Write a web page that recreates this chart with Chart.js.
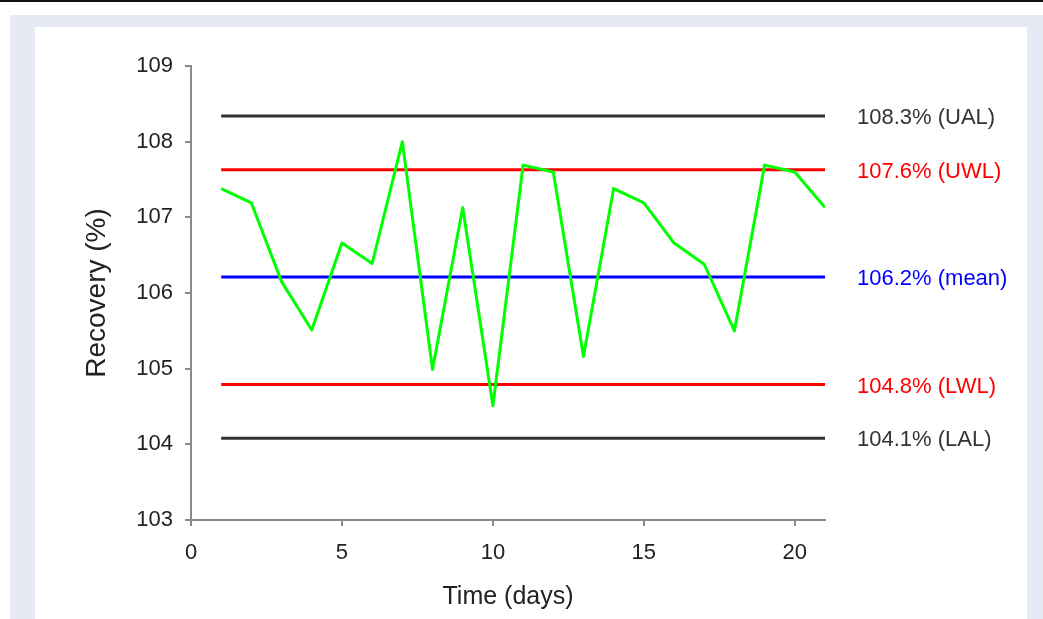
<!DOCTYPE html>
<html>
<head>
<meta charset="utf-8">
<script src="https://cdn.jsdelivr.net/npm/chart.js@4"></script>
<style>
  html, body { margin: 0; padding: 0; background: #fff; }
  body { width: 1043px; height: 619px; position: relative; overflow: hidden; }
  #topRule { position: absolute; left: 0; top: 0; width: 1043px; height: 2px; background: #111; }
  #frame { position: absolute; left: 10px; top: 15px; width: 1033px; height: 604px; background: #e6eaf5; }
  #panel { position: absolute; left: 35px; top: 27px; width: 992px; height: 592px; background: #fff; }
  #chart { position: absolute; left: 0; top: 0; }
</style>
</head>
<body>
<div id="topRule"></div>
<div id="frame"></div>
<div id="panel"></div>
<canvas id="chart" width="1043" height="619"></canvas>
<script>
// daily recovery values
const days = [1, 2, 3, 4, 5, 6, 7, 8, 9, 10, 11, 12, 13, 14, 15, 16, 17, 18, 19, 20, 21];
const recovery = [107.38, 107.19, 106.15, 105.51, 106.66, 106.39, 108.0, 104.99, 107.13, 104.51,
                  107.69, 107.60, 105.16, 107.38, 107.19, 106.66, 106.38, 105.50, 107.69, 107.60, 107.13];

// control limits
const limitNames = ['UAL', 'UWL', 'mean', 'LWL', 'LAL'];
const limitValues = [108.34, 107.63, 106.21, 104.79, 104.08];
const limitColors = ['#333333', '#ff0000', '#0000ff', '#ff0000', '#333333'];

const xTicks = [0, 5, 10, 15, 20];
const yTicks = [103, 104, 105, 106, 107, 108, 109];

const FONT = "'Liberation Sans', Arial, sans-serif";
const axisGray = '#8a8a8a';

const datasets = [{
    label: 'Recovery',
    data: days.map((d, i) => ({ x: d, y: recovery[i] })),
    borderColor: '#00ff00',
    borderWidth: 3,
    borderJoinStyle: 'round',
    pointRadius: 0,
    tension: 0
}];

limitValues.forEach((v, i) => {
    datasets.push({
        label: limitNames[i],
        data: [{ x: days[0], y: v }, { x: days[days.length - 1], y: v }],
        borderColor: limitColors[i],
        borderWidth: 3,
        pointRadius: 0
    });
});

// labels to the right of the limit lines
const limitLabels = {
    id: 'limitLabels',
    afterDatasetsDraw(chart) {
        const { ctx, chartArea, scales } = chart;
        ctx.save();
        ctx.font = '22px ' + FONT;
        ctx.textAlign = 'left';
        ctx.textBaseline = 'middle';
        limitValues.forEach((v, i) => {
            ctx.fillStyle = limitColors[i];
            ctx.fillText(v.toFixed(1) + '% (' + limitNames[i] + ')', chartArea.right + 32, scales.y.getPixelForValue(v) + 2);
        });
        ctx.restore();
    }
};

const ctx = document.getElementById('chart');

new Chart(ctx, {
    type: 'line',
    data: { datasets: datasets },
    options: {
        responsive: false,
        animation: false,
        layout: {
            padding: { left: 76, right: 218, top: 66, bottom: 3 }
        },
        plugins: {
            legend: { display: false },
            tooltip: { enabled: false }
        },
        scales: {
            x: {
                type: 'linear',
                min: 0,
                max: 21,
                afterFit: s => { s.height = 96; },
                afterBuildTicks: s => { s.ticks = xTicks.map(v => ({ value: v })); },
                ticks: { color: '#222', font: { family: FONT, size: 22 }, padding: 14, includeBounds: false },
                grid: { drawOnChartArea: false, drawTicks: true, tickLength: 6, color: axisGray, lineWidth: 2 },
                border: { display: true, color: axisGray, width: 2 },
                title: { display: true, text: 'Time (days)', color: '#222', font: { family: FONT, size: 25 } }
            },
            y: {
                min: 103,
                max: 109,
                afterFit: s => { s.width = 115; },
                afterBuildTicks: s => { s.ticks = yTicks.map(v => ({ value: v })); },
                ticks: { color: '#222', font: { family: FONT, size: 22 }, padding: 12 },
                grid: { drawOnChartArea: false, drawTicks: true, tickLength: 6, color: axisGray, lineWidth: 2 },
                border: { display: true, color: axisGray, width: 2 },
                title: { display: true, text: 'Recovery (%)', color: '#222', font: { family: FONT, size: 28 } }
            }
        }
    },
    plugins: [limitLabels]
});
</script>
</body>
</html>
